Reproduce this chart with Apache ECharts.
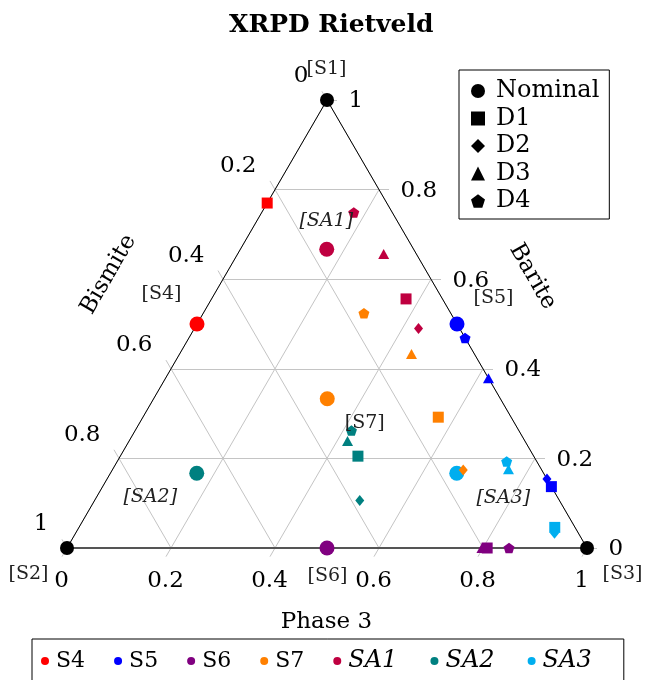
<!DOCTYPE html>
<html>
<head>
<meta charset="utf-8">
<script src="https://cdn.jsdelivr.net/npm/echarts@6/dist/echarts.min.js"></script>
<style>
  html, body { margin: 0; padding: 0; background: #fff; }
  #chart { width: 646px; height: 680px; }
</style>
</head>
<body>
<div id="chart"></div>
<script>
// Phase fractions as [Bismite, Barite, Phase 3], one row per method
// (Nominal, D1, D2, D3, D4); null where a method gave no result.
const methods = ['Nominal', 'D1', 'D2', 'D3', 'D4'];
const samples = ['S4', 'S5', 'S6', 'S7', 'SA1', 'SA2', 'SA3'];

const S4 = [[0.50, 0.50, 0.00], [0.23, 0.77, 0.00], null, null, null];
const S5 = [[0.00, 0.50, 0.50], [0.00, 0.137, 0.863], [0.00, 0.154, 0.846], [0.00, 0.379, 0.621], [0.00, 0.469, 0.531]];
const S6 = [[0.50, 0.00, 0.50], [0.192, 0.00, 0.808], null, [0.202, 0.00, 0.798], [0.15, 0.00, 0.85]];
const S7 = [[0.333, 0.333, 0.334], [0.14, 0.292, 0.568], [0.151, 0.174, 0.675], [0.121, 0.433, 0.446], [0.167, 0.524, 0.309]];
const SA1 = [[0.167, 0.667, 0.166], [0.07, 0.556, 0.374], [0.079, 0.49, 0.431], [0.063, 0.656, 0.281], [0.074, 0.749, 0.177]];
const SA2 = [[0.667, 0.167, 0.166], [0.338, 0.205, 0.457], [0.384, 0.106, 0.51], [0.341, 0.239, 0.42], [0.322, 0.262, 0.416]];
const SA3 = [[0.167, 0.167, 0.666], [0.039, 0.046, 0.915], [0.046, 0.033, 0.921], [0.063, 0.176, 0.761], [0.058, 0.193, 0.749]];

// pure-phase corners
const vertexNames = ['S1', 'S2', 'S3'];
const vertices = [[0, 1, 0], [1, 0, 0], [0, 0, 1]];

// axis ticks shared by all three sides
const tickValues = [0, 0.2, 0.4, 0.6, 0.8, 1];
const tickLabels = ['0', '0.2', '0.4', '0.6', '0.8', '1'];

const sampleData = { S4, S5, S6, S7, SA1, SA2, SA3 };
const sampleColors = {
  S4: '#ff0000', S5: '#0000ff', S6: '#800080', S7: '#ff8000',
  SA1: '#bf0040', SA2: '#008080', SA3: '#00aeef'
};
const PENTAGON = 'path://M0,-1L0.951,-0.309L0.588,0.809L-0.588,0.809L-0.951,-0.309Z';
const methodSymbols = {
  Nominal: { symbol: 'circle', size: 15 },
  D1: { symbol: 'rect', size: 11 },
  D2: { symbol: 'diamond', size: [9, 11] },
  D3: { symbol: 'triangle', size: [11, 10] },
  D4: { symbol: PENTAGON, size: [11, 10.5] }
};

const FONT = 'DejaVu Serif';
// ternary -> cartesian: x runs along the Phase 3 side, y is the Barite height
function toXY(c) { return [c[2] + c[1] / 2, c[1]]; }

// tick extension lengths in data units (side = 520 px, height = 448 px)
const EXT_H = 10 / 520;   // horizontal tick
const EXT_T = 10 / 518;   // slanted tick, step along the side direction

// grid lines with their outward ticks
const gridLines = [];
tickValues.forEach(c => {
  // constant Barite: horizontal, tick to the right
  gridLines.push({ coords: [[c / 2, c], [1 - c / 2 + EXT_H, c]] });
  // constant Bismite: parallel to the right side, tick up-left
  gridLines.push({ coords: [[1 - c, 0], [(1 - c) / 2 - EXT_T / 2, 1 - c + EXT_T]] });
  // constant Phase 3: parallel to the left side, tick down-left
  gridLines.push({ coords: [[c + (1 - c) / 2, 1 - c], [c - EXT_T / 2, -EXT_T]] });
});

const series = [];

series.push({
  type: 'lines', coordinateSystem: 'cartesian2d', silent: true, clip: false, z: 1,
  lineStyle: { color: '#c4c4c4', width: 1, opacity: 1 },
  data: gridLines
});
series.push({
  type: 'lines', coordinateSystem: 'cartesian2d', silent: true, clip: false, z: 2,
  lineStyle: { color: '#000', width: 1, opacity: 1 },
  data: [
    { coords: [toXY(vertices[1]), toXY(vertices[0])] },
    { coords: [toXY(vertices[0]), toXY(vertices[2])] }
  ]
});
series.push({
  type: 'lines', coordinateSystem: 'cartesian2d', silent: true, clip: false, z: 2,
  lineStyle: { color: '#555', width: 2, opacity: 1 },
  data: [{ coords: [toXY(vertices[1]), toXY(vertices[2])] }]
});

// one series per method and sample so later methods sit on top
methods.forEach((m, mi) => {
  samples.forEach(s => {
    const c = sampleData[s][mi];
    series.push({
      name: s, type: 'scatter', silent: true, clip: false, z: 3,
      symbol: methodSymbols[m].symbol,
      symbolSize: methodSymbols[m].size,
      itemStyle: { color: sampleColors[s], opacity: 1 },
      data: c ? [toXY(c)] : []
    });
  });
});

// legend-only entries for the marker shapes
methods.forEach(m => {
  series.push({
    name: m, type: 'scatter', symbol: methodSymbols[m].symbol,
    itemStyle: { color: '#000', opacity: 1 }, data: []
  });
});

// corner markers
series.push({
  type: 'scatter', silent: true, clip: false, z: 4, symbol: 'circle', symbolSize: 14,
  itemStyle: { color: '#000', opacity: 1 },
  data: vertices.map(toXY)
});

function textSeries(items) {
  return {
    type: 'scatter', silent: true, clip: false, z: 5, symbolSize: 1,
    itemStyle: { color: 'rgba(0,0,0,0)', opacity: 1 },
    data: items
  };
}

const tickFont = { fontFamily: FONT, fontSize: 23, color: '#000' };

// Bismite (left side, 0 at top)
series.push(textSeries(tickValues.map((c, i) => ({
  value: [(1 - c) / 2 - EXT_T / 2, 1 - c + EXT_T],
  label: Object.assign({ show: true, formatter: tickLabels[i], position: [-13, -3], align: 'right', verticalAlign: 'bottom' }, tickFont)
}))));
// Barite (right side, 0 at bottom)
series.push(textSeries(tickValues.map((c, i) => ({
  value: [1 - c / 2 + EXT_H, c],
  label: Object.assign({ show: true, formatter: tickLabels[i], position: [12, 2], align: 'left', verticalAlign: 'middle' }, tickFont)
}))));
// Phase 3 (bottom side)
series.push(textSeries(tickValues.map((c, i) => ({
  value: [c - EXT_T / 2, -EXT_T],
  label: Object.assign({ show: true, formatter: tickLabels[i], position: [0, 13], align: 'center', verticalAlign: 'top' }, tickFont)
}))));

// sample tags next to the nominal compositions and corners
const tagOffsets = {
  S1: [0, -30], S2: [-38, 27], S3: [36, 27],
  S4: [-35, -29], S5: [37, -25], S6: [1, 29], S7: [38, 25],
  SA1: [0, -28], SA2: [-46, 24], SA3: [47, 25]
};
const tagItems = [];
vertexNames.forEach((n, i) => tagItems.push({ n, c: vertices[i] }));
samples.forEach(s => tagItems.push({ n: s, c: sampleData[s][0] }));
series.push(textSeries(tagItems.map(t => ({
  value: toXY(t.c),
  label: {
    show: true, formatter: '[' + t.n + ']', position: tagOffsets[t.n],
    align: 'center', verticalAlign: 'middle',
    fontFamily: FONT, fontSize: 19, color: '#222',
    fontStyle: t.n.startsWith('SA') ? 'italic' : 'normal'
  }
}))));

// axis names
const axisFont = { fontFamily: FONT, fontSize: 23, color: '#000', align: 'center', verticalAlign: 'middle', show: true };
series.push(textSeries([
  { value: [0.5, 0], label: Object.assign({ formatter: 'Phase 3', position: [0, 75] }, axisFont) },
  { value: [0.25, 0.5], label: Object.assign({ formatter: 'Bismite', position: [-88, -49], rotate: 60 }, axisFont) },
  { value: [0.75, 0.5], label: Object.assign({ formatter: 'Barite', position: [76, -47], rotate: -60 }, axisFont) }
]));

const chart = echarts.init(document.getElementById('chart'), null, { renderer: 'canvas' });
chart.setOption({
  animation: false,
  backgroundColor: '#fff',
  title: {
    text: 'XRPD Rietveld', left: 224, top: 8,
    textStyle: { fontFamily: FONT, fontSize: 25, fontWeight: 'bold', color: '#000' }
  },
  grid: { left: 67, top: 100, width: 520, height: 448 },
  xAxis: { type: 'value', min: 0, max: 1, show: false },
  yAxis: { type: 'value', min: 0, max: 1, show: false },
  legend: [
    {
      data: samples.map(s => ({ name: s, icon: 'circle' })),
      orient: 'horizontal', left: 32, top: 639,
      itemWidth: 8, itemHeight: 8, itemGap: 29,
      padding: [10, 28, 20, 9],
      borderColor: '#000', borderWidth: 1,
      selectedMode: false,
      formatter: n => (n.startsWith('SA') ? '{i|' + n + '}{s| }' : '{n|' + n + '}'),
      textStyle: {
        rich: {
          n: { fontFamily: FONT, fontSize: 22, color: '#000', padding: [0, 0, 0, 2] },
          i: { fontFamily: FONT, fontSize: 24, fontStyle: 'italic', color: '#000', padding: [0, 0, 0, 2] },
          s: { fontFamily: FONT, fontSize: 13 }
        }
      }
    },
    {
      data: methods.map(m => ({ name: m, icon: methodSymbols[m].symbol })),
      orient: 'vertical', left: 459, top: 70,
      itemWidth: 14, itemHeight: 14, itemGap: 3.5,
      padding: [9, 10, 6, 12],
      borderColor: '#000', borderWidth: 1,
      selectedMode: false,
      formatter: n => '{t|' + n + '}',
      textStyle: {
        rich: { t: { fontFamily: FONT, fontSize: 24, lineHeight: 23, color: '#000', padding: [0, 0, 0, 6] } }
      }
    }
  ],
  series
});
</script>
</body>
</html>
